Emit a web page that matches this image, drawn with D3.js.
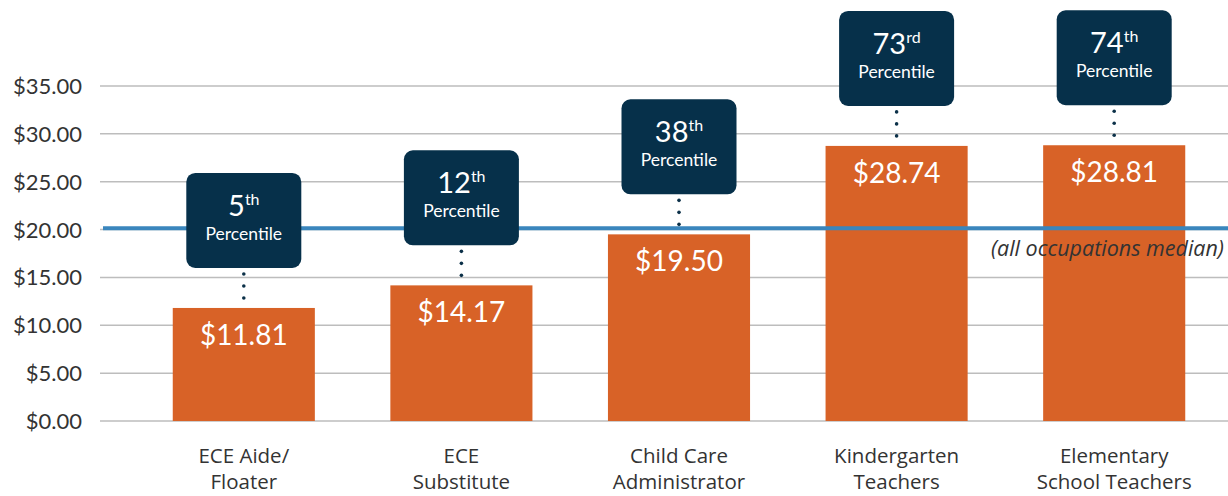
<!DOCTYPE html>
<html>
<head>
<meta charset="utf-8">
<script src="https://cdn.jsdelivr.net/npm/d3@7"></script>
<style>
  html, body { margin: 0; padding: 0; background: #fff; }
  svg { display: block; font-family: Lato, "Open Sans", sans-serif; }
</style>
</head>
<body>
<div id="svg-container"></div>
<script>
"use strict";
const occupations = [
  ["ECE Aide/", "Floater"],
  ["ECE", "Substitute"],
  ["Child Care", "Administrator"],
  ["Kindergarten", "Teachers"],
  ["Elementary", "School Teachers"]
];
const wages = [11.81, 14.17, 19.50, 28.74, 28.81];
const percentiles = [5, 12, 38, 73, 74];
const suffixes = ["th", "th", "th", "rd", "th"];
const yTicks = [0, 5, 10, 15, 20, 25, 30, 35];
const medianWage = 20.15;
const medianLabel = "(all occupations median)";

const width = 1228, height = 496;
const svg = d3.select("#svg-container").append("svg")
  .attr("width", width).attr("height", height);

const x = d3.scaleBand()
  .domain(d3.range(wages.length))
  .range([135, 1223])
  .paddingInner(0.347)
  .paddingOuter(0.1735);
const y = d3.scaleLinear().domain([0, 35]).range([421, 86]);

// grid
svg.append("g").selectAll("line")
  .data(yTicks).enter().append("line")
  .attr("x1", 100).attr("x2", width)
  .attr("y1", d => y(d)).attr("y2", d => y(d))
  .attr("stroke", "#bdbdbd").attr("stroke-width", 1.5);

// y axis labels
svg.append("g").selectAll("text")
  .data(yTicks).enter().append("text")
  .attr("x", 82).attr("y", d => y(d) + 8)
  .attr("text-anchor", "end")
  .attr("font-size", 22).attr("fill", "#333")
  .text(d => "$" + d3.format(".2f")(d));

const fmt = d3.format(".2f");
const bars = svg.append("g").selectAll("g")
  .data(wages).enter().append("g");

bars.append("rect")
  .attr("x", (d, i) => x(i))
  .attr("y", d => y(d))
  .attr("width", x.bandwidth())
  .attr("height", d => y(0) - y(d))
  .attr("fill", "#d86227");

// median line
svg.append("line")
  .attr("x1", 103).attr("x2", width)
  .attr("y1", y(medianWage)).attr("y2", y(medianWage))
  .attr("stroke", "#3a86bd").attr("stroke-width", 4);

svg.append("text")
  .attr("x", 1224).attr("y", y(medianWage) + 28)
  .attr("text-anchor", "end")
  .attr("font-family", "'Open Sans', sans-serif")
  .attr("font-size", 21.5).attr("font-style", "italic").attr("fill", "#333")
  .text(medianLabel);

bars.append("text")
  .attr("x", (d, i) => x(i) + x.bandwidth() / 2)
  .attr("y", d => y(d) + 37)
  .attr("text-anchor", "middle")
  .attr("font-size", 28).attr("fill", "#fff")
  .text(d => "$" + fmt(d));

// callouts
const boxW = 115, boxH = 95, gap = 40;
const callout = svg.append("g").selectAll("g")
  .data(percentiles).enter().append("g")
  .attr("transform", (d, i) => `translate(${x(i) + x.bandwidth() / 2}, ${y(wages[i]) - gap - boxH})`);

callout.each(function (d, i) {
  const g = d3.select(this);
  const dots = d3.range(boxH + 6, boxH + gap - 2, 12);
  g.selectAll("circle").data(dots).enter().append("circle")
    .attr("cx", 0).attr("cy", v => v).attr("r", 1.8).attr("fill", "#0b3048");
});

callout.append("rect")
  .attr("x", -boxW / 2).attr("y", 0)
  .attr("width", boxW).attr("height", boxH)
  .attr("rx", 9)
  .attr("fill", "#06304a");

const num = callout.append("text")
  .attr("x", 0).attr("y", 43)
  .attr("text-anchor", "middle")
  .attr("fill", "#fff");
num.append("tspan").attr("font-size", 29).text(d => d);
num.append("tspan").attr("font-size", 16).attr("dy", -11).text((d, i) => suffixes[i]);

callout.append("text")
  .attr("x", 0).attr("y", 67)
  .attr("text-anchor", "middle")
  .attr("font-size", 17.5).attr("fill", "#fff")
  .text("Percentile");

// x labels
const xl = svg.append("g").selectAll("text")
  .data(occupations).enter().append("text")
  .attr("text-anchor", "middle")
  .attr("font-family", "'Open Sans', sans-serif")
  .attr("font-size", 20.5).attr("fill", "#333");
xl.selectAll("tspan").data((d, i) => d.map(t => ({ t, i })))
  .enter().append("tspan")
  .attr("x", d => x(d.i) + x.bandwidth() / 2)
  .attr("y", (d, j) => 463 + j * 26)
  .text(d => d.t);
</script>
</body>
</html>
